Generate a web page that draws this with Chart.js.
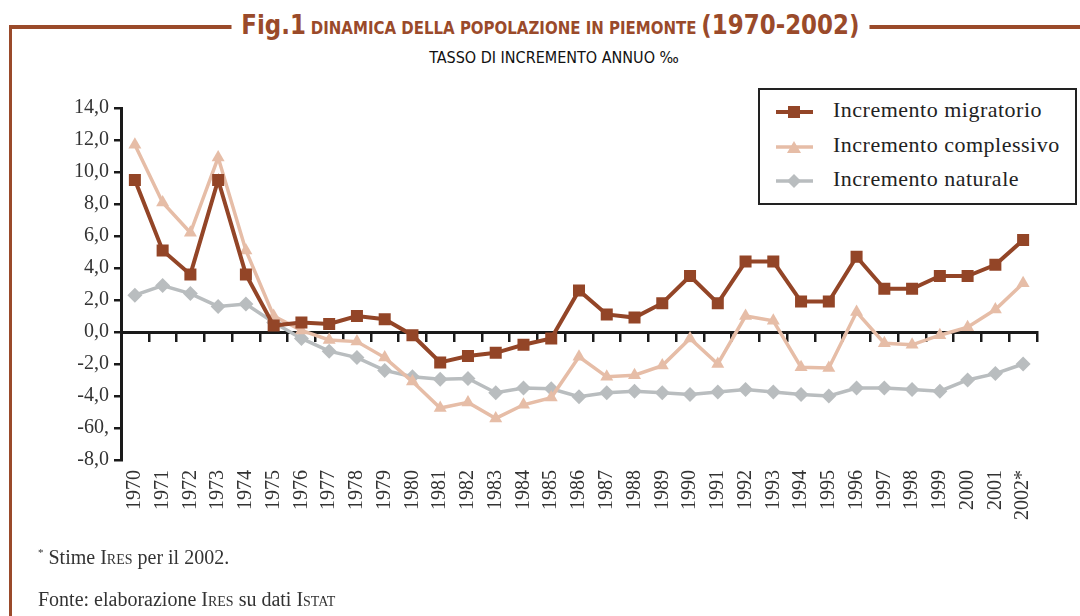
<!DOCTYPE html>
<html>
<head>
<meta charset="utf-8">
<script src="https://cdn.jsdelivr.net/npm/chart.js@4.4.0/dist/chart.umd.min.js"></script>
<style>
  body { margin:0; width:1080px; height:616px; background:#fff; overflow:hidden; position:relative; font-family:"Liberation Serif", serif; }
  #frameTop { position:absolute; left:9px; top:25px; width:1071px; height:4px; background:#9a4a2a; }
  #frameLeft { position:absolute; left:9px; top:25px; width:3px; height:591px; background:#9a4a2a; }
  #title { position:absolute; left:10px; width:1080px; top:5px; text-align:center; line-height:40px; }
  #title .t { display:inline-block; background:#fff; padding:0 10px; color:#9a4a2a; font-family:"DejaVu Sans Condensed","DejaVu Sans",sans-serif; font-weight:bold; transform:scaleX(0.98); }
  #title .big { font-size:26px; }
  #title .small { font-size:17px; }
  #sub { position:absolute; left:0; width:1108px; top:48px; text-align:center; font-family:"DejaVu Sans Condensed","DejaVu Sans",sans-serif; font-size:16px; color:#111; }
  #chart { position:absolute; left:0; top:0; }
  #legend { position:absolute; left:758px; top:88px; width:315px; height:113px; border:2px solid #222; background:#fff; }
  .row { position:absolute; left:0; height:30px; width:315px; }
  .row svg { position:absolute; left:15px; top:7px; }
  .row span { position:absolute; left:73px; top:0px; font-size:22px; letter-spacing:0.5px; color:#222; white-space:nowrap; }
  .note { position:absolute; left:38px; font-size:20px; color:#333; }
  .sc { font-variant:small-caps; }
</style>
</head>
<body>
<div id="frameTop"></div>
<div id="frameLeft"></div>
<div id="title"><span class="t"><span class="big">Fig.1</span> <span class="small">DINAMICA DELLA POPOLAZIONE IN PIEMONTE</span> <span class="big">(1970-2002)</span></span></div>
<div id="sub">TASSO DI INCREMENTO ANNUO ‰</div>
<canvas id="chart" width="1080" height="616"></canvas>
<div id="legend"></div>
<div class="note" style="top:546px;"><sup style="font-size:11px;">*</sup> Stime <span class="sc">Ires</span> per il 2002.</div>
<div class="note" style="top:588px;">Fonte: elaborazione <span class="sc">Ires</span> su dati <span class="sc">Istat</span></div>
<script>
// anni (asse x)
var years = ['1970','1971','1972','1973','1974','1975','1976','1977','1978','1979',
  '1980','1981','1982','1983','1984','1985','1986','1987','1988','1989',
  '1990','1991','1992','1993','1994','1995','1996','1997','1998','1999',
  '2000','2001','2002*'];

// tassi per mille
var migratorio = [9.5, 5.1, 3.6, 9.5, 3.6, 0.4, 0.6, 0.5, 1.0, 0.8,
  -0.2, -1.9, -1.5, -1.3, -0.8, -0.4, 2.6, 1.1, 0.9, 1.8,
  3.5, 1.8, 4.4, 4.4, 1.9, 1.9, 4.7, 2.7, 2.7, 3.5,
  3.5, 4.2, 5.75];
var complessivo = [11.7, 8.1, 6.2, 10.9, 5.1, 1.0, 0.1, -0.5, -0.6, -1.6,
  -3.1, -4.75, -4.4, -5.4, -4.55, -4.1, -1.55, -2.8, -2.7, -2.1,
  -0.4, -2.0, 1.0, 0.7, -2.2, -2.25, 1.25, -0.7, -0.8, -0.2,
  0.3, 1.4, 3.05];
var naturale = [2.3, 2.9, 2.4, 1.6, 1.75, 0.6, -0.4, -1.2, -1.6, -2.4,
  -2.8, -2.95, -2.9, -3.8, -3.5, -3.55, -4.05, -3.8, -3.7, -3.8,
  -3.9, -3.75, -3.6, -3.75, -3.9, -4.0, -3.5, -3.5, -3.6, -3.7,
  -3.0, -2.6, -2.0];

// etichette asse y (come nell'originale)
var yTicks = [14, 12, 10, 8, 6, 4, 2, 0, -2, -4, -6, -8];
var yTickLabels = ['14,0','12,0','10,0','8,0','6,0','4,0','2,0','0,0','-2,0','-4,0','-60,','-8,0'];

var seriesNames = ['Incremento migratorio', 'Incremento complessivo', 'Incremento naturale'];
var colMig = '#934527', colCom = '#e6bda7', colNat = '#b9bdbf';

var datasets = [
  { label: seriesNames[0], data: migratorio, borderColor: colMig, backgroundColor: colMig,
    borderWidth: 4, pointStyle: 'rect', pointRadius: 8.5, pointBorderWidth: 0 },
  { label: seriesNames[1], data: complessivo, borderColor: colCom, backgroundColor: colCom,
    borderWidth: 3.5, pointStyle: 'triangle', pointRadius: 7.5, pointBorderWidth: 0 },
  { label: seriesNames[2], data: naturale, borderColor: colNat, backgroundColor: colNat,
    borderWidth: 3.5, pointStyle: 'rectRot', pointRadius: 7.5, pointBorderWidth: 0 }
];

var ctx = document.getElementById('chart').getContext('2d');
var chart = new Chart(ctx, {
  type: 'line',
  data: { labels: years, datasets: datasets },
  options: {
    responsive: false,
    animation: false,
    devicePixelRatio: 1,
    layout: { padding: { top: 108, right: 43, left: 0, bottom: 0 } },
    plugins: { legend: { display: false }, tooltip: { enabled: false } },
    elements: { line: { tension: 0 } },
    scales: {
      x: {
        type: 'category', position: 'bottom', offset: true,
        grid: { display: false, drawTicks: false },
        border: { display: false },
        ticks: { minRotation: 90, maxRotation: 90, autoSkip: false, padding: 10,
          color: '#333', font: { family: 'Liberation Serif', size: 20 } },
        afterFit: function (s) { s.height = 156; }
      },
      x2: {
        type: 'category', position: { y: 0 }, offset: true,
        grid: { offset: true, drawOnChartArea: false, tickLength: 8, color: '#1a1a1a', lineWidth: 2.5 },
        border: { color: '#1a1a1a', width: 3 },
        ticks: { display: false }
      },
      y: {
        min: -8, max: 14,
        grid: { drawOnChartArea: false, tickLength: 7, color: '#1a1a1a', lineWidth: 2.5 },
        border: { color: '#1a1a1a', width: 3 },
        ticks: { stepSize: 2, padding: 5, color: '#333', font: { family: 'Liberation Serif', size: 20 },
          callback: function (v) { var i = yTicks.indexOf(v); return i >= 0 ? yTickLabels[i] : ''; } },
        afterFit: function (s) { s.width = 121; }
      }
    }
  }
});

// legenda in HTML costruita dai dataset
var shapes = {
  rect: '<rect x="13" y="2" width="12" height="12"/>',
  triangle: '<polygon points="19,2 26,14 12,14"/>',
  rectRot: '<polygon points="19,1 26,8 19,15 12,8"/>'
};
var legend = document.getElementById('legend');
var rowTops = [7, 42, 76];
datasets.forEach(function (d, i) {
  var row = document.createElement('div');
  row.className = 'row';
  row.style.top = rowTops[i] + 'px';
  row.innerHTML = '<svg width="40" height="16"><line x1="1" y1="8" x2="38" y2="8" stroke="' + d.borderColor +
    '" stroke-width="' + d.borderWidth + '"/><g fill="' + d.borderColor + '">' + shapes[d.pointStyle] + '</g></svg>' +
    '<span>' + d.label + '</span>';
  legend.appendChild(row);
});
</script>
</body>
</html>
